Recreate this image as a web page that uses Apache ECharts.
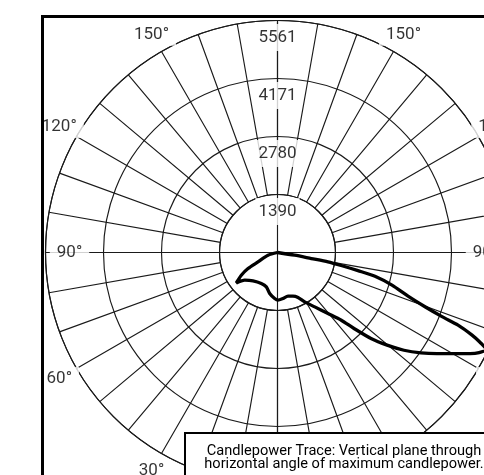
<!DOCTYPE html>
<html>
<head>
<meta charset="utf-8">
<script src="https://cdn.jsdelivr.net/npm/echarts@6/dist/echarts.min.js"></script>
<style>
  html, body { margin: 0; padding: 0; background: #fff; }
  #chart { width: 484px; height: 475px; }
</style>
</head>
<body>
<div id="chart"></div>
<script>
// 径向刻度 (cd) 和 标注的垂直角
const radiusTicks = [1390, 2780, 4171, 5561];
const angleTicks = [30, 60, 90, 120, 150];

// 配光曲线: 角度从 0° (正下方) 逆时针 (先到右侧 90°, 再到正上方 180°)
const traceAngle = [180, 81.1, 79.9, 79.5, 78.4, 77.3, 76.3, 74.1, 71.5, 69.8, 68.7, 68.1, 67.0, 66.1, 65.1,
  63.6, 62.3, 60.2, 57.6, 55.0, 52.3, 49.8, 47.4, 45.2, 43.3, 39.6, 34.4, 28.8, 24.5, 19.5, 13.5, 6.8, 0.6,
  356.5, 349.2, 342.0, 332.4, 319.2, 310.2, 306.4, 302.1, 298.5, 295.7, 285.9, 180];
const traceCd = [0, 417, 823, 1231, 1578, 1978, 2405, 2854, 3299, 3767, 4233, 4664, 5066, 5309, 5509,
  5394, 5213, 4877, 4528, 4198, 3831, 3439, 3045, 2585, 2230, 1898, 1580, 1352, 1185, 1111, 1077, 1111, 1143,
  1105, 1000, 867, 838, 899, 1029, 1227, 1024, 804, 519, 237, 0];

const legendLines = ['Candlepower Trace: Vertical plane through', 'horizontal angle of maximum candlepower.'];

const center = [277.5, 252.5];
const R = 232;
const maxCd = radiusTicks[radiusTicks.length - 1];
const pxToCd = maxCd / R;
const innerR = R * radiusTicks[0] / maxCd;
const fontFamily = 'Roboto, sans-serif';

const chart = echarts.init(document.getElementById('chart'));

// 标签位置
const radiusLabelData = radiusTicks.map(v => ({ name: String(v), value: [v - 17 * pxToCd, 180] }));
const angleLabelData = [];
angleTicks.forEach(a => {
  const r = a === 90 ? (R - 24) * pxToCd : (R + 20) * pxToCd;
  angleLabelData.push({ name: a + '°', value: [r, a] });
  angleLabelData.push({ name: a + '°', value: [r, 360 - a] });
});

const gridLine = { color: '#1a1a1a', width: 1.15 };

const option = {
  backgroundColor: '#fff',
  animation: false,
  polar: [
    { center: center, radius: [innerR, R] },
    { center: center, radius: [0, R] }
  ],
  angleAxis: [
    {
      polarIndex: 0, type: 'value', min: 0, max: 360, interval: 10,
      startAngle: 270, clockwise: false,
      axisLine: { show: true, lineStyle: gridLine },
      axisTick: { show: false }, axisLabel: { show: false },
      splitLine: { show: true, lineStyle: gridLine }
    },
    {
      polarIndex: 1, type: 'value', min: 0, max: 360, interval: 90,
      startAngle: 270, clockwise: false,
      axisLine: { show: false }, axisTick: { show: false }, axisLabel: { show: false },
      splitLine: { show: true, lineStyle: gridLine }
    }
  ],
  radiusAxis: [
    {
      polarIndex: 0, type: 'value', min: radiusTicks[0], max: maxCd,
      interval: (maxCd - radiusTicks[0]) / 3,
      axisLine: { show: false }, axisTick: { show: false }, axisLabel: { show: false },
      splitLine: { show: true, lineStyle: gridLine }
    },
    {
      polarIndex: 1, type: 'value', min: 0, max: maxCd,
      axisLine: { show: false }, axisTick: { show: false }, axisLabel: { show: false },
      splitLine: { show: false }
    }
  ],
  graphic: [
    {
      type: 'rect', z: 100,
      shape: { x: 42.5, y: 16.5, width: 700, height: 700 },
      style: { fill: null, stroke: '#000', lineWidth: 3 }
    },
    {
      type: 'rect', z: 100,
      shape: { x: 185, y: 433, width: 400, height: 100 },
      style: { fill: '#fff', stroke: '#000', lineWidth: 2 }
    },
    {
      type: 'text', z: 101, x: 344, y: 451,
      style: { text: legendLines[0], fill: '#000', font: '14.6px ' + fontFamily, textAlign: 'center', textVerticalAlign: 'middle' }
    },
    {
      type: 'text', z: 101, x: 344, y: 464.5,
      style: { text: legendLines[1], fill: '#000', font: '14.6px ' + fontFamily, textAlign: 'center', textVerticalAlign: 'middle' }
    }
  ],
  series: [
    {
      type: 'line', coordinateSystem: 'polar', polarIndex: 1,
      data: traceCd.map((v, i) => [v, traceAngle[i]]),
      showSymbol: false, smooth: 0.25, clip: false, z: 5,
      lineStyle: { color: '#000', width: 3.3 }
    },
    {
      type: 'scatter', coordinateSystem: 'polar', polarIndex: 1,
      data: radiusLabelData, symbolSize: 1, clip: false, z: 6,
      itemStyle: { color: 'rgba(0,0,0,0)' },
      label: {
        show: true, position: 'inside', formatter: '{b}',
        color: '#000', fontSize: 17, fontFamily: fontFamily,
        backgroundColor: '#fff', padding: [5, 3]
      }
    },
    {
      type: 'scatter', coordinateSystem: 'polar', polarIndex: 1,
      data: angleLabelData, symbolSize: 1, clip: false, z: 6,
      itemStyle: { color: 'rgba(0,0,0,0)' },
      label: {
        show: true, position: 'inside', formatter: '{b}',
        color: '#000', fontSize: 17, fontFamily: fontFamily,
        backgroundColor: '#fff', padding: [3, 7]
      }
    }
  ]
};

chart.setOption(option);
</script>
</body>
</html>
